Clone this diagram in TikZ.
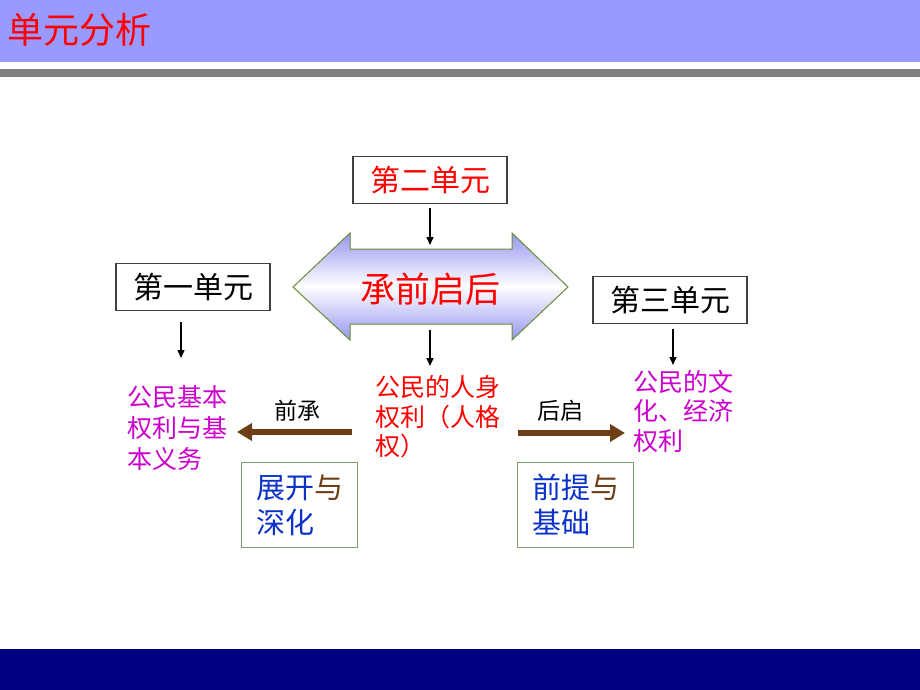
\documentclass[tikz,border=0pt]{standalone}
\usepackage{fontspec}
\setmainfont{Noto Sans CJK SC}
\usetikzlibrary{arrows.meta}
\definecolor{banner}{RGB}{153,153,255}
\definecolor{barnavy}{RGB}{0,0,128}
\definecolor{graybar}{RGB}{128,128,128}
\definecolor{mag}{RGB}{204,0,204}
\definecolor{brn}{RGB}{110,62,22}
\definecolor{blu}{RGB}{10,50,200}
\definecolor{olive}{RGB}{105,140,55}
\definecolor{lav}{RGB}{150,150,240}
\definecolor{boxgreen}{RGB}{130,155,110}
\tikzset{
  unitbox/.style={draw=black!75, line width=1.2pt, inner sep=0pt, minimum width=154pt, minimum height=47pt, font=\fontsize{30}{36}\selectfont},
  lowbox/.style={draw=boxgreen, line width=1.2pt, inner sep=0pt, minimum width=116pt, minimum height=85pt, align=left, font=\fontsize{29}{35}\selectfont},
  arr/.style={line width=1.5pt, -{Triangle[length=8pt,width=7pt]}},
  barr/.style={brn, line width=6pt, -{Triangle[length=15pt,width=17pt]}},
  txt/.style={inner sep=0pt, align=left, anchor=west},
}
\begin{document}
\begin{tikzpicture}[x=1pt,y=-1pt]
\useasboundingbox (0,0) rectangle (920,690);
% header
\fill[banner] (0,0) rectangle (920,62);
\fill[graybar] (0,69) rectangle (920,77);
\node[anchor=west, inner sep=0pt, text=red, font=\fontsize{36}{40}\selectfont] (title) at (7,30) {单元分析};
% footer
\fill[barnavy] (0,649) rectangle (920,690);
% double arrow
\path[draw=olive, line width=1pt, top color=lav, bottom color=lav, middle color=white]
  (293,287) -- (350,233) -- (350,249) -- (512,249) -- (512,233) -- (568,287)
  -- (512,340) -- (512,324) -- (350,324) -- (350,340) -- cycle;
\node[text=red, inner sep=0pt, font=\fontsize{35}{40}\selectfont] (cq) at (430,289) {承前启后};
\coordinate (dtop) at (430,245);
\coordinate (dbot) at (430,330);
\coordinate (dend) at (430,366);
% unit boxes
\node[unitbox, text=red] (b2) at (430,180) {第二单元};
\node[unitbox] (b1) at (193,287) {第一单元};
\node[unitbox] (b3) at (670,300) {第三单元};
% text blocks
\node[txt, text=mag, font=\fontsize{25}{31}\selectfont] (t1) at (127,428) {公民基本\\权利与基\\本义务};
\node[txt, text=red, font=\fontsize{25}{29.5}\selectfont] (t2) at (375,417) {公民的人身\\权利（人格\\权）};
\node[txt, text=mag, font=\fontsize{25}{29.5}\selectfont] (t3) at (633,411) {公民的文\\化、经济\\权利};
% vertical arrows
\draw[arr] ([yshift=-4pt]b2.south) -- (dtop);
\draw[arr] (dbot) -- (dend);
\draw[arr] ([yshift=-11pt]b1.south -| 181,0) -- (181,358);
\draw[arr] ([yshift=-5pt]b3.south -| 673,0) -- (673,365);
% brown arrows
\coordinate (lstart) at (352,432);
\coordinate (rstart) at (518,433);
\draw[barr] (lstart) -- (237,432);
\draw[barr] (rstart) -- (625,433);
\node[inner sep=0pt, font=\fontsize{23}{26}\selectfont] (qc) at (297,411) {前承};
\node[inner sep=0pt, font=\fontsize{23}{26}\selectfont] (hq) at (560,411) {后启};
% lower boxes
\node[lowbox] (l1) at (299.5,505) {\textcolor{blu}{展开}\textcolor{brn}{与}\\\textcolor{blu}{深化}};
\node[lowbox] (l2) at (575.5,505) {\textcolor{blu}{前提}\textcolor{brn}{与}\\\textcolor{blu}{基础}};
\end{tikzpicture}
\end{document}
